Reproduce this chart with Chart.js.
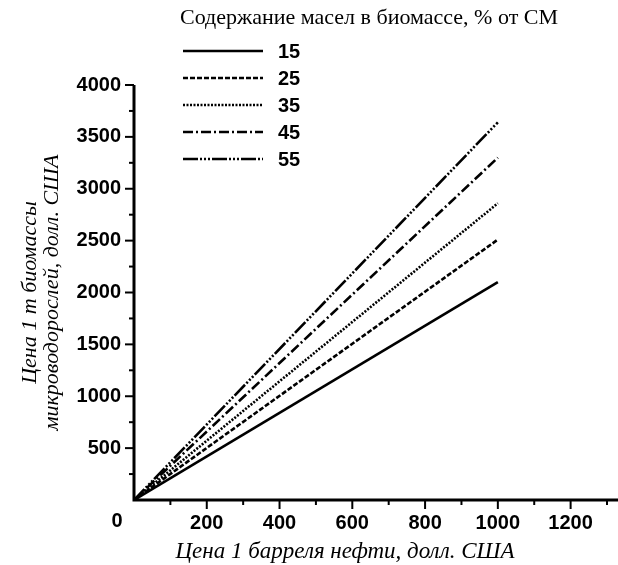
<!DOCTYPE html>
<html>
<head>
<meta charset="utf-8">
<script src="https://cdn.jsdelivr.net/npm/chart.js@4"></script>
<style>
  html, body { margin: 0; padding: 0; background: #fff; }
  canvas { display: block; }
</style>
</head>
<body>
<canvas id="chart" width="618" height="565"></canvas>
<script>
// oil price, USD per barrel
const oilPrice = [0, 1000];
// biomass price for each oil content (% of dry matter)
const oil15 = [0, 2100];
const oil25 = [0, 2510];
const oil35 = [0, 2860];
const oil45 = [0, 3300];
const oil55 = [0, 3640];
const seriesLabels = ['15', '25', '35', '45', '55'];
const xTickLabels = ['200', '400', '600', '800', '1000', '1200'];
const yTickLabels = ['500', '1000', '1500', '2000', '2500', '3000', '3500', '4000'];

const legendTitle = 'Содержание масел в биомассе, % от СМ';
const xTitle = 'Цена 1 барреля нефти, долл. США';
const yTitle = ['Цена 1 т биомассы', 'микроводорослей, долл. США'];

const dashes = [[], [5, 2], [2, 1.5], [10, 3, 2, 3], [15, 2, 2, 2, 2, 2, 2, 2]];
const seriesValues = [oil15, oil25, oil35, oil45, oil55];

const tickFont = { family: 'Liberation Sans, Arial, sans-serif', size: 20, weight: 'bold' };

function toPoints(vals) {
  return vals.map((v, i) => ({ x: oilPrice[i], y: v }));
}

const datasets = seriesValues.map((vals, i) => ({
  label: seriesLabels[i],
  data: toPoints(vals),
  showLine: true,
  borderColor: '#000',
  borderWidth: 2.6,
  borderDash: dashes[i],
  pointRadius: 0,
  fill: false,
  tension: 0
}));

// ticks, axis lines, "0" label, x title and legend
const decorPlugin = {
  id: 'decor',
  afterDraw(chart) {
    const ctx = chart.ctx;
    const xs = chart.scales.x, ys = chart.scales.y;
    const area = chart.chartArea;
    ctx.save();
    ctx.strokeStyle = '#000';
    ctx.fillStyle = '#000';

    // axes
    ctx.lineWidth = 3;
    ctx.beginPath();
    ctx.moveTo(area.left, area.top);
    ctx.lineTo(area.left, area.bottom);
    ctx.lineTo(618, area.bottom);
    ctx.stroke();

    // tick marks
    ctx.lineWidth = 2;
    xs.ticks.forEach(t => {
      if (t.value === 0) return;
      const px = xs.getPixelForValue(t.value);
      const len = t.value % 200 === 0 ? 9 : 5;
      ctx.beginPath();
      ctx.moveTo(px, area.bottom);
      ctx.lineTo(px, area.bottom + len);
      ctx.stroke();
    });
    ys.ticks.forEach(t => {
      if (t.value === 0) return;
      const py = ys.getPixelForValue(t.value);
      const len = t.value % 500 === 0 ? 9 : 5;
      ctx.beginPath();
      ctx.moveTo(area.left, py);
      ctx.lineTo(area.left - len, py);
      ctx.stroke();
    });

    // shared origin label
    ctx.font = 'bold 20px "Liberation Sans", Arial, sans-serif';
    ctx.textAlign = 'center';
    ctx.textBaseline = 'middle';
    ctx.fillText('0', 117, 521);

    // x axis title
    ctx.font = 'italic 23px "Liberation Serif", "Times New Roman", serif';
    ctx.fillText(xTitle, 345, 552);

    // legend
    ctx.font = '22px "Liberation Serif", "Times New Roman", serif';
    ctx.fillText(legendTitle, 369, 18);
    ctx.textAlign = 'left';
    ctx.font = 'bold 20px "Liberation Sans", Arial, sans-serif';
    chart.data.datasets.forEach((ds, i) => {
      const y = 51 + i * 27;
      ctx.lineWidth = 2.6;
      ctx.setLineDash(ds.borderDash);
      ctx.beginPath();
      ctx.moveTo(183, y);
      ctx.lineTo(263, y);
      ctx.stroke();
      ctx.setLineDash([]);
      ctx.fillText(ds.label, 278, y + 1);
    });
    ctx.restore();
  }
};

new Chart(document.getElementById('chart'), {
  type: 'scatter',
  data: { datasets },
  options: {
    responsive: false,
    animation: false,
    layout: { padding: { top: 85, right: 2, left: 0, bottom: 0 } },
    plugins: { legend: { display: false }, tooltip: { enabled: false } },
    scales: {
      x: {
        type: 'linear',
        min: 0,
        max: 1300,
        grid: { display: false, drawTicks: false },
        border: { display: false },
        ticks: {
          stepSize: 100,
          autoSkip: false,
          maxRotation: 0,
          padding: 11,
          color: '#000',
          font: tickFont,
          callback: v => (v % 200 === 0 && v > 0) ? xTickLabels[v / 200 - 1] : ''
        },
        afterFit(scale) { scale.height = 65; }
      },
      y: {
        min: 0,
        max: 4000,
        grid: { display: false, drawTicks: false },
        border: { display: false },
        ticks: {
          stepSize: 250,
          autoSkip: false,
          padding: 13,
          color: '#000',
          font: tickFont,
          callback: v => (v % 500 === 0 && v > 0) ? yTickLabels[v / 500 - 1] : ''
        },
        title: {
          display: true,
          text: yTitle,
          color: '#000',
          font: { family: 'Liberation Serif, Times New Roman, serif', size: 22, style: 'italic', lineHeight: 1.0 },
          padding: { top: 19, bottom: 0 }
        },
        afterFit(scale) { scale.width = 134; }
      }
    }
  },
  plugins: [decorPlugin]
});
</script>
</body>
</html>
